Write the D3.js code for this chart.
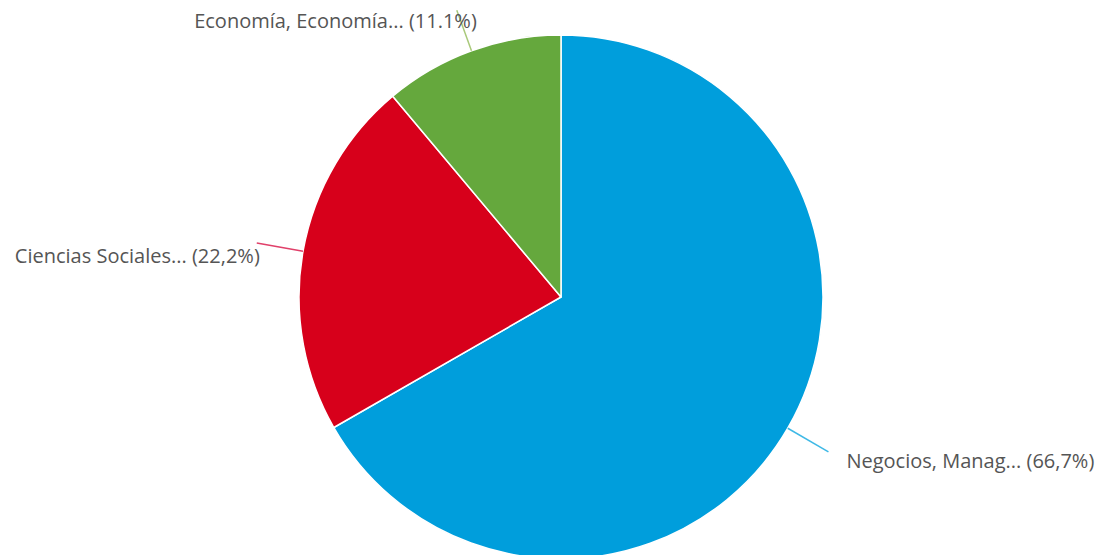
<!DOCTYPE html>
<html>
<head>
<meta charset="utf-8">
<script src="https://cdn.jsdelivr.net/npm/d3@7"></script>
<style>
  html, body { margin: 0; padding: 0; background: #ffffff; }
  svg { display: block; }
  .slice-label { font-family: "Open Sans", Lato, sans-serif; font-size: 20px; fill: #555555; }
</style>
</head>
<body>
<svg id="chart" width="1104" height="555"></svg>
<script>
// Subject areas and their share of documents (%)
const categories = ["Negocios, Manag...", "Ciencias Sociales...", "Economía, Economía..."];
const percentLabels = ["66,7%", "22,2%", "11.1%"];
const shares = [66.7, 22.2, 11.1];
const sliceColors = ["#009edc", "#d7001b", "#65a83d"];
const leaderColors = ["#3fb9e6", "#e0406a", "#a9c97a"];

// Label layout: leader length past the rim and text offset from the leader's end
const labelLayout = [
  { len: 47, anchor: "start", dx: 18, dy: 16 },
  { len: 47, anchor: "end",   dx: 3,  dy: 20 },
  { len: 43, anchor: "end",   dx: 20, dy: 18 }
];

const width = 1104, height = 555;
const cx = 561, cy = 297, radius = 262;

const svg = d3.select("#chart");
const g = svg.append("g").attr("transform", `translate(${cx},${cy})`);

const pie = d3.pie().sort(null).value(d => d.value);
const data = pie(shares.map((v, i) => ({ value: v, i })));

const arc = d3.arc().innerRadius(0).outerRadius(radius);

g.selectAll("path.slice")
  .data(data)
  .join("path")
  .attr("class", "slice")
  .attr("d", arc)
  .attr("fill", d => sliceColors[d.data.i])
  .attr("stroke", "#ffffff")
  .attr("stroke-width", 1.5)
  .attr("stroke-linejoin", "round");

// Point on a ray from the centre at the slice's mid-angle
function rayPoint(d, r) {
  const a = (d.startAngle + d.endAngle) / 2;
  return [Math.sin(a) * r, -Math.cos(a) * r];
}

g.selectAll("line.leader")
  .data(data)
  .join("line")
  .attr("class", "leader")
  .attr("x1", d => rayPoint(d, radius)[0])
  .attr("y1", d => rayPoint(d, radius)[1])
  .attr("x2", d => rayPoint(d, radius + labelLayout[d.data.i].len)[0])
  .attr("y2", d => rayPoint(d, radius + labelLayout[d.data.i].len)[1])
  .attr("stroke", d => leaderColors[d.data.i])
  .attr("stroke-width", 1.5);

g.selectAll("text.slice-label")
  .data(data)
  .join("text")
  .attr("class", "slice-label")
  .attr("text-anchor", d => labelLayout[d.data.i].anchor)
  .attr("x", d => rayPoint(d, radius + labelLayout[d.data.i].len)[0] + labelLayout[d.data.i].dx)
  .attr("y", d => rayPoint(d, radius + labelLayout[d.data.i].len)[1] + labelLayout[d.data.i].dy)
  .text(d => `${categories[d.data.i]} (${percentLabels[d.data.i]})`);
</script>
</body>
</html>
